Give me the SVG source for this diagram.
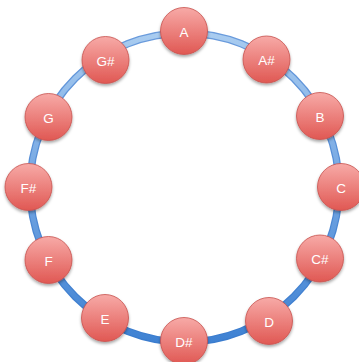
<svg xmlns="http://www.w3.org/2000/svg" width="359" height="362" viewBox="0 0 359 362">
<defs>
<linearGradient id="ringGrad" x1="0" y1="0" x2="0" y2="1">
<stop offset="0" stop-color="#a9ccf0"/>
<stop offset="0.5" stop-color="#72a5e2"/>
<stop offset="1" stop-color="#3f82d3"/>
</linearGradient>
<linearGradient id="ringEdge" x1="0" y1="0" x2="0" y2="1">
<stop offset="0" stop-color="#6a9bdc"/>
<stop offset="1" stop-color="#3a7cce"/>
</linearGradient>
<linearGradient id="nodeGrad" x1="0" y1="0" x2="0" y2="1">
<stop offset="0" stop-color="#f7aaa7"/>
<stop offset="1" stop-color="#e05853"/>
</linearGradient>
<filter id="shadow" x="-30%" y="-30%" width="160%" height="170%">
<feDropShadow dx="0" dy="2" stdDeviation="1.6" flood-color="#000" flood-opacity="0.35"/>
</filter>
<style>
.node circle { fill: url(#nodeGrad); stroke: #c8504c; stroke-width: 0.8; filter: url(#shadow); }
.node text { fill: #ffffff; font-family: "Liberation Sans", Arial, sans-serif; font-size: 13.5px; text-anchor: middle; dominant-baseline: central; }
</style>
</defs>
<g id="connectors">
<circle cx="184.5" cy="187.5" r="154.5" fill="none" stroke="url(#ringEdge)" stroke-width="7.5"/>
<circle cx="184.5" cy="187.5" r="154.5" fill="none" stroke="url(#ringGrad)" stroke-width="5"/>
</g>
<g id="node-A" class="node"><circle cx="184" cy="31" r="23.5"/><text x="184" y="32">A</text></g>
<g id="node-Asharp" class="node"><circle cx="266.5" cy="59.5" r="23.5"/><text x="266.5" y="60.5">A#</text></g>
<g id="node-B" class="node"><circle cx="320" cy="116" r="23.5"/><text x="320" y="117">B</text></g>
<g id="node-C" class="node"><circle cx="341" cy="187" r="23.5"/><text x="341" y="188">C</text></g>
<g id="node-Csharp" class="node"><circle cx="320" cy="258.5" r="23.5"/><text x="320" y="259.5">C#</text></g>
<g id="node-D" class="node"><circle cx="269" cy="321" r="23.5"/><text x="269" y="322">D</text></g>
<g id="node-Dsharp" class="node"><circle cx="184" cy="341" r="23.5"/><text x="184" y="342">D#</text></g>
<g id="node-E" class="node"><circle cx="105" cy="318" r="23.5"/><text x="105" y="319">E</text></g>
<g id="node-F" class="node"><circle cx="48.5" cy="260" r="23.5"/><text x="48.5" y="261">F</text></g>
<g id="node-Fsharp" class="node"><circle cx="28.5" cy="187" r="23.5"/><text x="28.5" y="188">F#</text></g>
<g id="node-G" class="node"><circle cx="48.5" cy="117" r="23.5"/><text x="48.5" y="118">G</text></g>
<g id="node-Gsharp" class="node"><circle cx="105.5" cy="60" r="23.5"/><text x="105.5" y="61">G#</text></g>
</svg>
